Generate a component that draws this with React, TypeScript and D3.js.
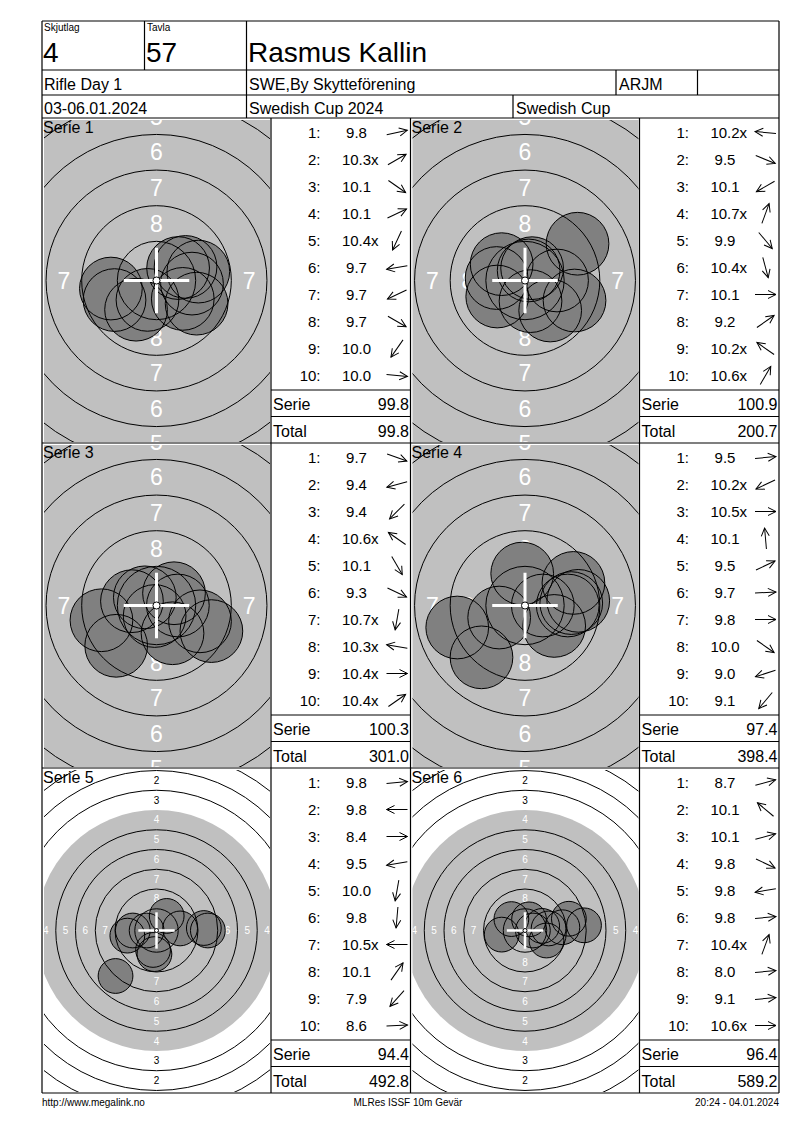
import * as d3 from "d3";
import { useEffect, useRef } from "react";

const headerLabels = ["Skjutlag", "Tavla"];
const headerValues = ["4", "57"];
const shooterName = "Rasmus Kallin";
const infoRow1 = ["Rifle Day 1", "SWE,By Skytteförening", "ARJM", ""];
const infoRow2 = ["03-06.01.2024", "Swedish Cup 2024", "Swedish Cup"];
const footerTexts = ["http://www.megalink.no", "MLRes ISSF 10m Gevär", "20:24 - 04.01.2024"];

const serieTitles = ["Serie 1", "Serie 2", "Serie 3", "Serie 4", "Serie 5", "Serie 6"];
const serie1Shots = ["9.8", "10.3x", "10.1", "10.1", "10.4x", "9.7", "9.7", "9.7", "10.0", "10.0"];
const serie2Shots = ["10.2x", "9.5", "10.1", "10.7x", "9.9", "10.4x", "10.1", "9.2", "10.2x", "10.6x"];
const serie3Shots = ["9.7", "9.4", "9.4", "10.6x", "10.1", "9.3", "10.7x", "10.3x", "10.4x", "10.4x"];
const serie4Shots = ["9.5", "10.2x", "10.5x", "10.1", "9.5", "9.7", "9.8", "10.0", "9.0", "9.1"];
const serie5Shots = ["9.8", "9.8", "8.4", "9.5", "10.0", "9.8", "10.5x", "10.1", "7.9", "8.6"];
const serie6Shots = ["8.7", "10.1", "10.1", "9.8", "9.8", "9.8", "10.4x", "8.0", "9.1", "10.6x"];

// direction of every shot seen from the centre, degrees counter-clockwise from 3 o'clock
const serie1Dirs = [12, 30, -35, 25, 245, 190, 205, -30, 235, -5];
const serie2Dirs = [175, -22, 210, 70, -50, -75, 0, 35, 145, 60];
const serie3Dirs = [-20, 195, 225, 145, -60, -25, 260, 170, 0, 35];
const serie4Dirs = [5, 205, 0, 95, 25, 3, 0, -35, 198, 230];
const serie5Dirs = [5, 180, 0, 190, 260, 265, 180, 55, 228, 3];
const serie6Dirs = [15, 140, 15, -25, 190, 5, 70, 5, 5, 0];

const serieSums = ["99.8", "100.9", "100.3", "97.4", "94.4", "96.4"];
const serieTotals = ["99.8", "200.7", "301.0", "398.4", "492.8", "589.2"];
const serieZoomed = [true, true, true, true, false, false];

const ringNumbers = [1, 2, 3, 5, 6, 7, 8, 9];
const labelRings = [1, 2, 3, 4, 5, 6, 7, 8];

const FONT = "'Liberation Sans', Arial, sans-serif";

// ISSF 10m air rifle: ring n outer radius in mm
const ringRadius = (n: number) => 0.25 + (10 - n) * 2.5;
// decimal score -> distance of shot centre from target centre (mm)
const shotDistance = (score: number) => Math.max(0, (11 - score) * 2.5);

const App = () => {
  const ref = useRef<SVGSVGElement>(null);

  useEffect(() => {
    const svg = d3.select(ref.current);
    svg.selectAll("*").remove();

    const left = 42;
    const right = 779;
    const top = 21;
    const bottom = 1093;
    const colW = (right - left) / 2;
    const targetW = 229;
    const panelTop = 118;
    const panelH = (bottom - panelTop) / 3;

    const shots = [serie1Shots, serie2Shots, serie3Shots, serie4Shots, serie5Shots, serie6Shots];
    const dirs = [serie1Dirs, serie2Dirs, serie3Dirs, serie4Dirs, serie5Dirs, serie6Dirs];

    const defs = svg.append("defs");

    // ---------- panels ----------
    serieTitles.forEach((title, i) => {
      const px = left + (i % 2) * colW;
      const py = panelTop + Math.floor(i / 2) * panelH;
      const cx = px + targetW / 2;
      const cy = py + panelH / 2;
      const zoomed = serieZoomed[i];
      const s = zoomed ? 14.25 : 7.9; // px per mm

      const x = d3.scaleLinear().domain([0, 1]).range([cx, cx + s]);
      const y = d3.scaleLinear().domain([0, 1]).range([cy, cy - s]);
      const r = (mm: number) => x(mm) - x(0);

      const clipId = `clip${i}`;
      defs
        .append("clipPath")
        .attr("id", clipId)
        .append("rect")
        .attr("x", px + 2)
        .attr("y", py + 2)
        .attr("width", targetW - 3)
        .attr("height", panelH - 3);

      const g = svg.append("g").attr("clip-path", `url(#${clipId})`);

      g.append("rect")
        .attr("x", px)
        .attr("y", py)
        .attr("width", targetW)
        .attr("height", panelH)
        .attr("fill", zoomed ? "#c0c0c0" : "#fff");
      if (!zoomed) {
        g.append("circle").attr("cx", cx).attr("cy", cy).attr("r", r(ringRadius(4))).attr("fill", "#c0c0c0");
      }

      // ring numbers, only those that reach into the panel
      const fs = zoomed ? 23 : 10;
      labelRings.forEach((n) => {
        const rr = (ringRadius(n) + ringRadius(n + 1)) / 2;
        const pos = [
          [0, rr],
          [0, -rr],
          [-rr, 0],
          [rr, 0],
        ];
        pos.forEach(([mx, my]) => {
          const tx = x(mx);
          const ty = y(my);
          if (tx < px - fs / 3 || tx > px + targetW + fs / 3) return;
          if (ty < py - fs / 2 || ty > py + panelH + fs / 2) return;
          g.append("text")
            .attr("x", tx)
            .attr("y", ty)
            .attr("text-anchor", "middle")
            .attr("dominant-baseline", "central")
            .attr("font-family", FONT)
            .attr("font-size", fs)
            .attr("fill", n >= 4 ? "#fff" : "#000")
            .text(n);
        });
      });

      const pts = shots[i].map((sc, k) => {
        const d = shotDistance(parseFloat(sc));
        const a = (dirs[i][k] * Math.PI) / 180;
        return { mx: d * Math.cos(a), my: d * Math.sin(a) };
      });

      g.selectAll(null)
        .data(pts)
        .join("circle")
        .attr("cx", (d) => x(d.mx))
        .attr("cy", (d) => y(d.my))
        .attr("r", r(2.2))
        .attr("fill", "#808080");
      g.selectAll(null)
        .data(pts)
        .join("circle")
        .attr("cx", (d) => x(d.mx))
        .attr("cy", (d) => y(d.my))
        .attr("r", r(2.2))
        .attr("fill", "none")
        .attr("stroke", "#000")
        .attr("stroke-width", 1);

      // ring lines on top
      g.selectAll(null)
        .data(ringNumbers)
        .join("circle")
        .attr("cx", cx)
        .attr("cy", cy)
        .attr("r", (n) => r(ringRadius(n)))
        .attr("fill", "none")
        .attr("stroke", "#000")
        .attr("stroke-width", 1);

      // centre cross
      const arm = r(2.3);
      const cw = zoomed ? 3 : 2.5;
      g.append("line").attr("x1", cx - arm).attr("x2", cx + arm).attr("y1", cy).attr("y2", cy).attr("stroke", "#fff").attr("stroke-width", cw);
      g.append("line").attr("x1", cx).attr("x2", cx).attr("y1", cy - arm).attr("y2", cy + arm).attr("stroke", "#fff").attr("stroke-width", cw);
      g.append("circle")
        .attr("cx", cx)
        .attr("cy", cy)
        .attr("r", Math.max(2, r(0.25)))
        .attr("fill", "#fff")
        .attr("stroke", "#000")
        .attr("stroke-width", 1);

      svg
        .append("text")
        .attr("x", px + 1)
        .attr("y", py + 15)
        .attr("font-family", FONT)
        .attr("font-size", 16)
        .attr("fill", "#000")
        .text(title);

      // ---------- score list ----------
      const lx = px + targetW;
      const lw = colW - targetW;
      shots[i].forEach((sc, k) => {
        const ry = py + 14.5 + 27 * k;
        svg.append("text")
          .attr("x", lx + 49.5)
          .attr("y", ry + 5.5)
          .attr("text-anchor", "end")
          .attr("font-family", FONT)
          .attr("font-size", 15)
          .text(`${k + 1}:`);
        const num = sc.replace("x", "");
        const t = svg
          .append("text")
          .attr("x", lx + 85.5)
          .attr("y", ry + 5.5)
          .attr("text-anchor", "middle")
          .attr("font-family", FONT)
          .attr("font-size", 15)
          .text(num);
        if (sc.endsWith("x")) {
          const len = (t.node() as SVGTextElement).getComputedTextLength();
          svg.append("text")
            .attr("x", lx + 85.5 + len / 2)
            .attr("y", ry + 5.5)
            .attr("font-family", FONT)
            .attr("font-size", 15)
            .text("x");
        }
        // direction arrow
        const ag = svg
          .append("g")
          .attr("transform", `translate(${lx + 126},${ry}) rotate(${-dirs[i][k]})`)
          .attr("stroke", "#000")
          .attr("stroke-width", 1)
          .attr("fill", "none");
        ag.append("line").attr("x1", -10.5).attr("x2", 10.5).attr("y1", 0).attr("y2", 0);
        ag.append("path").attr("d", "M2.5,-4 L10.5,0 L2.5,4");
      });

      svg.append("line").attr("x1", lx).attr("x2", lx + lw).attr("y1", py + 272).attr("y2", py + 272).attr("stroke", "#000");
      svg.append("line").attr("x1", lx).attr("x2", lx + lw).attr("y1", py + 298.5).attr("y2", py + 298.5).attr("stroke", "#000");

      const rows = [
        ["Serie", serieSums[i], py + 291.5],
        ["Total", serieTotals[i], py + 318.5],
      ] as const;
      rows.forEach(([label, val, by]) => {
        svg.append("text").attr("x", lx + 2).attr("y", by).attr("font-family", FONT).attr("font-size", 16).text(label);
        svg.append("text").attr("x", lx + lw - 1.5).attr("y", by).attr("text-anchor", "end").attr("font-family", FONT).attr("font-size", 16).text(val);
      });
    });

    // ---------- grid lines ----------
    const lines: [number, number, number, number][] = [
      [left, top, right, top],
      [left, 70, right, 70],
      [left, 95, right, 95],
      [left, panelTop, right, panelTop],
      [left, panelTop + panelH, right, panelTop + panelH],
      [left, panelTop + 2 * panelH, right, panelTop + 2 * panelH],
      [left, bottom, right, bottom],
      [left, top, left, bottom],
      [right, top, right, bottom],
      [144.5, top, 144.5, 70],
      [246.5, top, 246.5, panelTop],
      [616, 70, 616, 95],
      [697.5, 70, 697.5, 95],
      [513, 95, 513, panelTop],
      [left + targetW, panelTop, left + targetW, bottom],
      [left + colW, panelTop, left + colW, bottom],
      [left + colW + targetW, panelTop, left + colW + targetW, bottom],
    ];
    svg
      .append("g")
      .selectAll("line")
      .data(lines)
      .join("line")
      .attr("x1", (d) => d[0])
      .attr("y1", (d) => d[1])
      .attr("x2", (d) => d[2])
      .attr("y2", (d) => d[3])
      .attr("stroke", "#000")
      .attr("stroke-width", 1.2);

    // ---------- header text ----------
    const hdr = svg.append("g").attr("font-family", FONT).attr("fill", "#000");
    [44, 147].forEach((hx, k) => {
      hdr.append("text").attr("x", hx).attr("y", 31).attr("font-size", 10).text(headerLabels[k]);
      hdr.append("text").attr("x", hx - 1).attr("y", 62).attr("font-size", 28).text(headerValues[k]);
    });
    hdr.append("text").attr("x", 248).attr("y", 62).attr("font-size", 28).text(shooterName);
    [44, 249, 619, 700].forEach((hx, k) => {
      hdr.append("text").attr("x", hx).attr("y", 90).attr("font-size", 16).text(infoRow1[k]);
    });
    [44, 249, 516].forEach((hx, k) => {
      hdr.append("text").attr("x", hx).attr("y", 114).attr("font-size", 16).text(infoRow2[k]);
    });

    // ---------- footer ----------
    const ft = svg.append("g").attr("font-family", FONT).attr("font-size", 10).attr("fill", "#000");
    ft.append("text").attr("x", left).attr("y", 1106).text(footerTexts[0]);
    ft.append("text").attr("x", 408).attr("y", 1106).attr("text-anchor", "middle").text(footerTexts[1]);
    ft.append("text").attr("x", right).attr("y", 1106).attr("text-anchor", "end").text(footerTexts[2]);

    return () => {
      svg.selectAll("*").remove();
    };
  }, []);

  return (
    <svg
      ref={ref}
      width={800}
      height={1130}
      style={{ position: "absolute", left: 0, top: 0, background: "#fff" }}
    ></svg>
  );
};

export default App;
